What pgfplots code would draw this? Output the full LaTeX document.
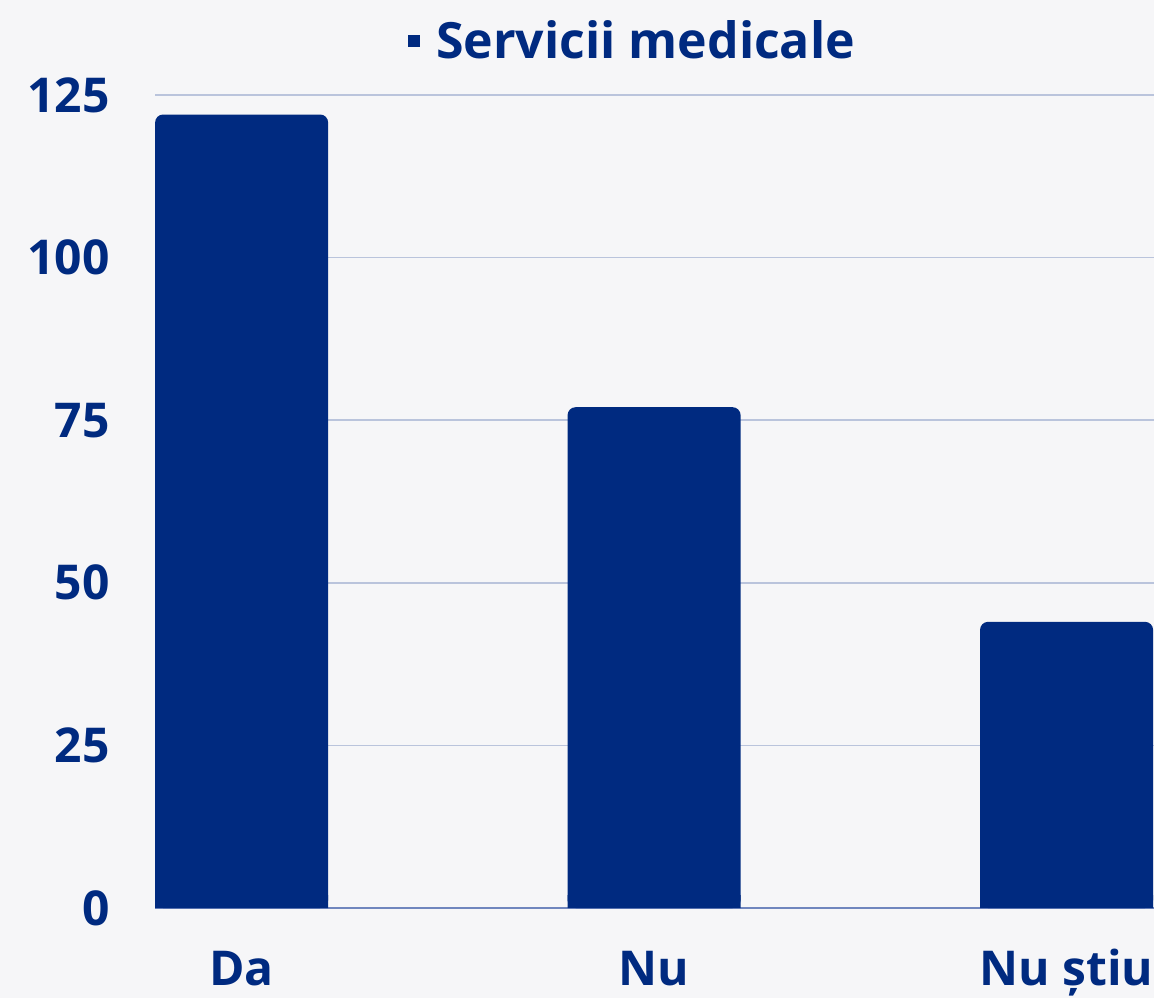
\documentclass[border=0pt]{standalone}
\usepackage{pgfplots}
\pgfplotsset{compat=1.18}
\usepackage{fontspec}
\setmainfont{Open Sans}
\definecolor{barblue}{RGB}{0,42,128}
\definecolor{gridc}{RGB}{186,196,220}
\definecolor{axisc}{RGB}{112,134,190}
\definecolor{bgc}{RGB}{246,246,248}
\begin{document}
\begin{tikzpicture}
\fill[bgc] (0,0) rectangle (577pt,499pt);
\useasboundingbox (0,0) rectangle (577pt,499pt);
\begin{axis}[
  at={(77.5pt,45pt)}, anchor=south west,
  scale only axis, width=499.5pt, height=406.5pt,
  xmin=-0.21, xmax=2.212, ymin=0, ymax=125,
  ytick={0,25,50,75,100,125},
  xtick={0,1,2}, xticklabels={Da,Nu,Nu știu},
  axis x line*=bottom, axis y line*=left,
  x axis line style={draw=axisc, line width=1pt, -},
  y axis line style={draw=none},
  major tick length=0pt,
  ymajorgrids, grid style={draw=gridc, line width=0.75pt},
  /pgf/number format/assume math mode=true,
  tick label style={font=\fontsize{24}{29}\selectfont\bfseries, text=barblue},
  yticklabel style={anchor=east, inner sep=0pt, xshift=-22.5pt},
  xticklabel style={anchor=base, inner sep=0pt, yshift=-38.5pt},
  ybar, bar width=86.5pt, bar shift=0pt,
  clip=false,
  legend style={at={(0.479,1.067)}, anchor=center, draw=none, fill=none,
    font=\fontsize{25}{30}\selectfont\bfseries, text=barblue,
    legend cell align=left, inner sep=0pt},
  legend image code/.code={\fill[barblue, sharp corners] (0pt,-3pt) rectangle (6pt,3pt); \path (12pt,0pt);},
]
\addplot[fill=barblue, draw=none, rounded corners=4pt] coordinates {(0,122) (1,77) (2,44)};
\addlegendentry{Servicii medicale}
\addplot[fill=barblue, draw=none, forget plot] coordinates {(0,2) (1,2) (2,2)};
\end{axis}
\end{tikzpicture}
\end{document}
